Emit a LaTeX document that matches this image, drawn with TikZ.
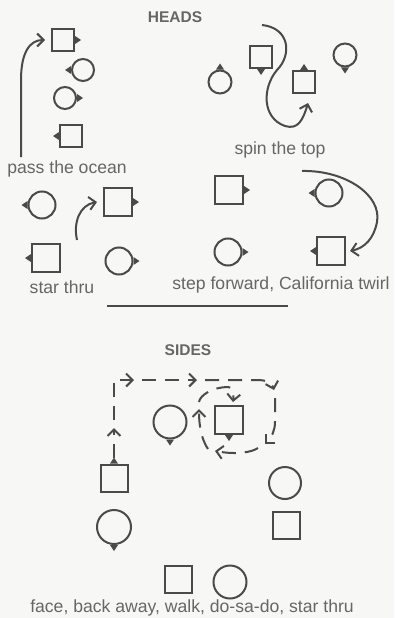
\documentclass[tikz,border=0pt]{standalone}
\usepackage{fontspec}
\setmainfont{Liberation Sans}
\usepackage{tikz}
\usetikzlibrary{arrows.meta,calc}
\definecolor{ink}{HTML}{4A4A4A}
\definecolor{txt}{HTML}{666666}
\definecolor{paper}{HTML}{F7F7F5}
\tikzset{
  boy/.style={draw=ink,line width=2pt,fill=paper,minimum size=#1,inner sep=0pt},
  boy/.default=27pt,
  girl/.style={circle,draw=ink,line width=2pt,fill=paper,minimum size=#1,inner sep=0pt},
  girl/.default=27pt,
  move/.style={->,draw=ink,line width=2pt},
  dmove/.style={->,draw=ink,line width=2pt,dash pattern=on 14pt off 9pt},
  lbl/.style={font=\fontsize{17.6}{20}\selectfont,text=txt,inner sep=0pt,anchor=base},
  heading/.style={font=\bfseries\fontsize{15.5}{18}\selectfont,text=txt,inner sep=0pt,anchor=base},
  rule/.style={draw=ink,line width=2.4pt},
  >={Straight Barb[length=6.5pt,width=13pt]}
}
% facing mark of a dancer: node, angle
\newcommand\nose[2]{\fill[ink] ($(#1.#2)+(#2+90:4pt)$) -- ($(#1.#2)+(#2:6pt)$) -- ($(#1.#2)+(#2-90:4pt)$) -- cycle;}
\begin{document}
\begin{tikzpicture}[x=1pt,y=-1pt]
  \fill[paper] (0,0) rectangle (394,618);
  \useasboundingbox (0,0) rectangle (394,618);

  % dancers
  \foreach \n/\x/\y/\s in {A/63/40/22,D/71/136/22,F/261/57/22,G/304/82/22,
      J/118/202/28,K/46/258/28,M/229/190/28,P/331/251/28,
      R/229/420/28,S/114/478/27,V/286/525/27,W/178/579/27}
    \node[boy=\s pt] (\n) at (\x,\y) {};
  \foreach \n/\x/\y/\s in {B/83/70/22,C/65/98/22,E/220/82/23,H/345/55/23,
      I/42/205/27,L/119/261/27,N/329/193/27,O/228/252/27,
      Q/170/422/33,T/114/527/34,U/285/483/32,X/230/582/33}
    \node[girl=\s pt] (\n) at (\x,\y) {};
  \foreach \n/\a in {A/0,B/180,C/0,D/180,E/90,F/270,G/90,H/270,
      I/180,J/0,K/180,L/0,M/0,N/180,O/0,P/180,Q/270,R/270,S/90,T/270}
    {\nose{\n}{\a}}

  % HEADS
  \node[heading] (heads) at (175,23) {HEADS};
  \node[lbl] (ocean) at (67,173) {pass the ocean};
  \node[lbl] (spin) at (280,154) {spin the top};
  \node[lbl] (star) at (62,293) {star thru};
  \node[lbl] (twirl) at (281,289) {step forward, California twirl};

  \coordinate (po) at (21,157);
  \draw[move] (po) -- (21,80) .. controls (21,52) and (30,40) .. ([xshift=-6pt]A.west);
  \coordinate (st) at (262,25);
  \draw[move] (st) .. controls (290,28) and (292,55) .. (277,70)
    .. controls (262,88) and (262,118) .. (285,126)
    .. controls (298,130) and (303,120) .. ([xshift=4pt,yshift=-9pt]G.south);
  \coordinate (sr) at (77,240);
  \draw[move] (sr) .. controls (73,222) and (80,205) .. ([xshift=-6pt]J.west);
  \coordinate (tw) at (302,171);
  \draw[move] (tw) .. controls (345,170) and (382,195) .. (377,222)
    .. controls (374,238) and (365,248) .. ([xshift=4pt]P.east);

  \draw[rule] (107,306) -- (288,306);

  % SIDES
  \node[heading] (sides) at (188,355) {SIDES};
  \coordinate (up1) at (114,428);
  \coordinate (cn) at (114,380);
  \coordinate (rt1) at (134,380);
  \coordinate (rt2) at (197,380);
  \coordinate (dr) at (274,390);
  \coordinate (dl) at (265,444);
  \coordinate (lf) at (215,451);
  \coordinate (up2) at (199,409);
  \draw[dmove] ([yshift=6pt]S.north) -- (up1);
  \draw[dmove] ([yshift=8pt]up1) -- (cn) -- (rt1);
  \draw[dmove] ([xshift=8pt]rt1) -- (rt2);
  \draw[dmove] ([xshift=8pt]rt2) -- (257,380) .. controls (267,380) and (272,383) .. (dr);
  \draw[dmove] ([shift={(1pt,-8pt)}]dr) -- (275,422) .. controls (275,430) and (272,437) .. (dl);
  \draw[dmove] ([shift={(-7pt,-4pt)}]dl) .. controls (252,452) and (238,455) .. (lf);
  \draw[dmove] ([shift={(-7pt,2pt)}]lf) .. controls (204,443) and (199,432) .. (up2);
  \draw[dmove] ([yshift=7pt]up2) .. controls (200,395) and (213,387) .. (228,387)
    .. controls (233,387) and (234,392) .. ([xshift=4pt,yshift=3pt]R.north);
  \node[lbl] (walk) at (192,612) {face, back away, walk, do-sa-do, star thru};
\end{tikzpicture}
\end{document}
